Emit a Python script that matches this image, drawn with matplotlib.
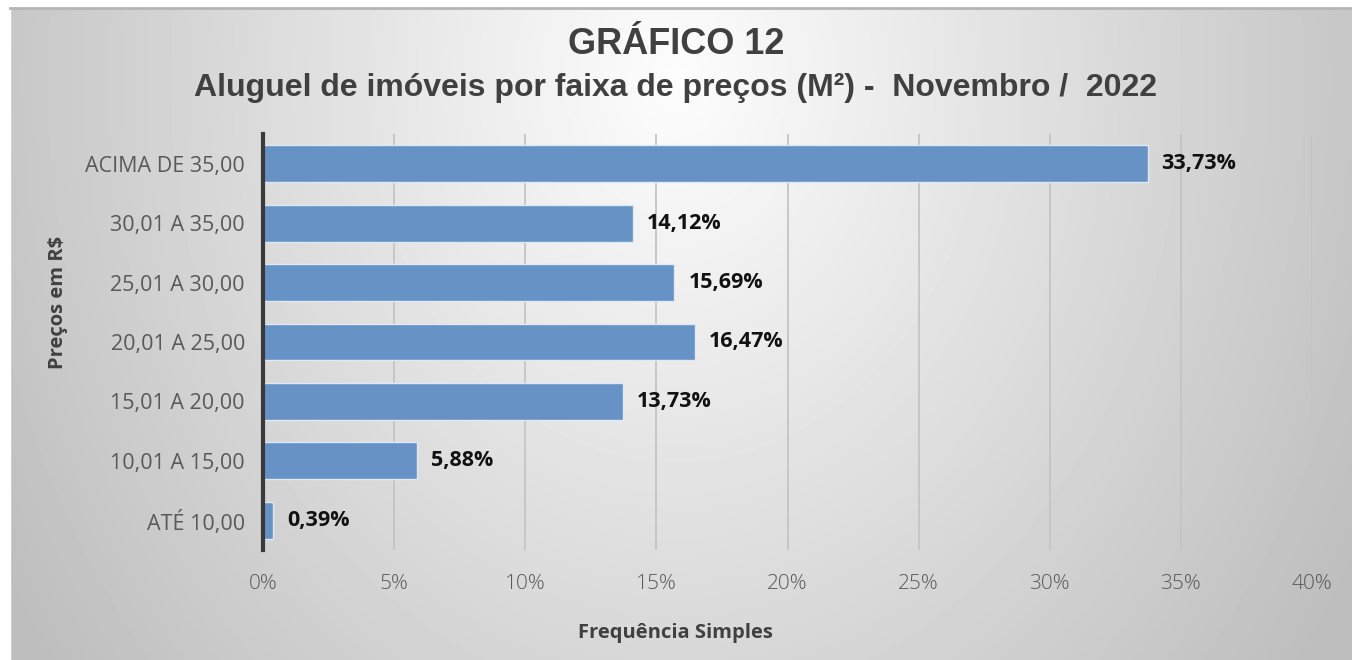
import numpy as np
import matplotlib.pyplot as plt

# data
categorias = ["ATÉ 10,00", "10,01 A 15,00", "15,01 A 20,00", "20,01 A 25,00",
              "25,01 A 30,00", "30,01 A 35,00", "ACIMA DE 35,00"]
valores = [0.39, 5.88, 13.73, 16.47, 15.69, 14.12, 33.73]
xticks = [0, 5, 10, 15, 20, 25, 30, 35, 40]

fig = plt.figure(figsize=(13.52, 6.6), dpi=100)

# gray radial background (Excel style)
bg = fig.add_axes([0, 0, 1, 1], zorder=-10)
yy, xx = np.mgrid[0:1:330j, 0:1:676j]
d = np.sqrt(((xx - 0.5) / 0.55) ** 2 + ((yy - 0.12) / 1.4) ** 2)
val = np.clip(253 - 60 * d, 190, 253) / 255.0
bg.imshow(val, cmap="gray", vmin=0, vmax=1, aspect="auto",
          extent=[0, 1, 0, 1], origin="upper")
bg.set_xlim(0, 1)
bg.set_ylim(0, 1)
bg.axis("off")
# white margin top/left + thin frame line
bg.axhspan(1 - 7 / 660, 1, color="white", zorder=5)
bg.axvspan(0, 10 / 1352, color="white", zorder=5)
bg.plot([10 / 1352, 1], [1 - 8 / 660, 1 - 8 / 660], color="#b5b5b5", lw=2, zorder=6)

ax = fig.add_axes([263 / 1352, 1 - 550 / 660, (1312 - 263) / 1352, 416 / 660])
ax.set_facecolor("none")

y = np.arange(len(categorias))
ax.barh(y, valores, height=0.62, color="#6692c6", edgecolor="#dfe8f3", linewidth=1, zorder=3)

for yi, v in zip(y, valores):
    ax.annotate(f"{v:.2f}%".replace(".", ","), (v, yi), xytext=(10, 0),
                textcoords="offset points", va="center", ha="left",
                fontsize=15.5, fontweight="bold", color="#111111", family="Open Sans")

ax.set_xlim(0, 40)
ax.set_ylim(-0.5, len(categorias) - 0.5)
ax.set_xticks(xticks)
ax.set_xticklabels([f"{t}%" for t in xticks], fontsize=15, color="#595959",
                   family="Open Sans", fontweight="light")
ax.set_yticks(y)
ax.set_yticklabels(categorias, fontsize=15.5, color="#595959", family="Open Sans")
ax.tick_params(axis="y", length=0, pad=13)
ax.tick_params(axis="x", length=0, pad=17)
ax.grid(axis="x", color="#c4c4c4", lw=1.3, zorder=0)
for s in ["top", "right", "bottom"]:
    ax.spines[s].set_visible(False)
ax.spines["left"].set_color("#3a3a3a")
ax.spines["left"].set_linewidth(3)
ax.spines["left"].set_zorder(4)

fig.text(675 / 1352, 1 - 633 / 660, "Frequência Simples", ha="center", va="center",
         fontsize=14.5, fontweight="bold", color="#404040", family="Open Sans")
fig.text(58 / 1352, 1 - 302 / 660, "Preços em R$", ha="center", va="center",
         rotation=90, fontsize=14.5, fontweight="bold", color="#404040", family="Open Sans")

fig.text(0.5, 1 - 45 / 660, "GRÁFICO 12", ha="center", va="center",
         fontsize=26, fontweight="bold", color="#404040", family="Liberation Sans")
fig.text(0.5, 1 - 88 / 660, "Aluguel de imóveis por faixa de preços (M²) -  Novembro /  2022",
         ha="center", va="center", fontsize=23, fontweight="bold", color="#404040",
         family="Liberation Sans")

fig.savefig("out.png", dpi=100)
